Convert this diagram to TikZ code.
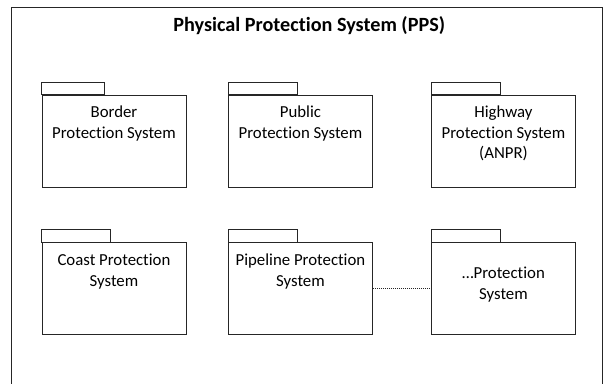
\documentclass[tikz,border=0pt]{standalone}
\usepackage{fontspec}
\setmainfont{Carlito}[Ligatures=NoCommon]
\begin{document}
\begin{tikzpicture}[x=1pt,y=-1pt,
  line/.style={line width=0.9pt, draw=black!85},
  pkgbody/.style={line, rectangle, inner sep=0pt, minimum width=144pt, minimum height=92pt, anchor=north west},
  pkgtext/.style={anchor=north, align=center, inner sep=0pt, font=\fontsize{16.8}{20.8}\selectfont},
  title/.style={anchor=base, inner sep=0pt, font=\fontsize{20.2}{24}\selectfont\bfseries}]
\useasboundingbox (0,0) rectangle (609,383);
% frame
\draw[line] (11.5,384) |- (602,7.5) -- (602,384);
\node[title] (t) at (309.2,31.7) {Physical Protection System (PPS)};
% row 1
\node[pkgbody] (p1) at (41.5,94.5) {};
\node[pkgbody] (p2) at (228,94.5) {};
\node[pkgbody] (p3) at (431,94.5) {};
% row 2
\node[pkgbody] (p4) at (41.5,242) {};
\node[pkgbody] (p5) at (228,242) {};
\node[pkgbody] (p6) at (431,242) {};
% tabs
\draw[line] (p1.north west) rectangle ++(63,-12.5);
\draw[line] (p2.north west) rectangle ++(69,-12.5);
\draw[line] (p3.north west) rectangle ++(69,-12.5);
\draw[line] (p4.north west) rectangle ++(69,-13);
\draw[line] (p5.north west) rectangle ++(69,-13);
\draw[line] (p6.north west) rectangle ++(69,-13);
% texts
\node[pkgtext] (l1) at ([yshift=-11pt]p1.north) {Border\\Protection System};
\node[pkgtext] (l2) at ([yshift=-11pt]p2.north) {Public\\Protection System};
\node[pkgtext] (l3) at ([yshift=-11pt]p3.north) {Highway\\Protection System\\(ANPR)};
\node[pkgtext] (l4) at ([yshift=-12pt]p4.north) {Coast Protection\\System};
\node[pkgtext] (l5) at ([yshift=-12pt]p5.north) {Pipeline Protection\\System};
\node[pkgtext] (l6) at ([yshift=-24.5pt]p6.north) {\ldots Protection\\System};
% connector
\draw[line, line width=0.8pt, dash pattern=on 1pt off 1pt] (p5) -- (p6);
\end{tikzpicture}
\end{document}
